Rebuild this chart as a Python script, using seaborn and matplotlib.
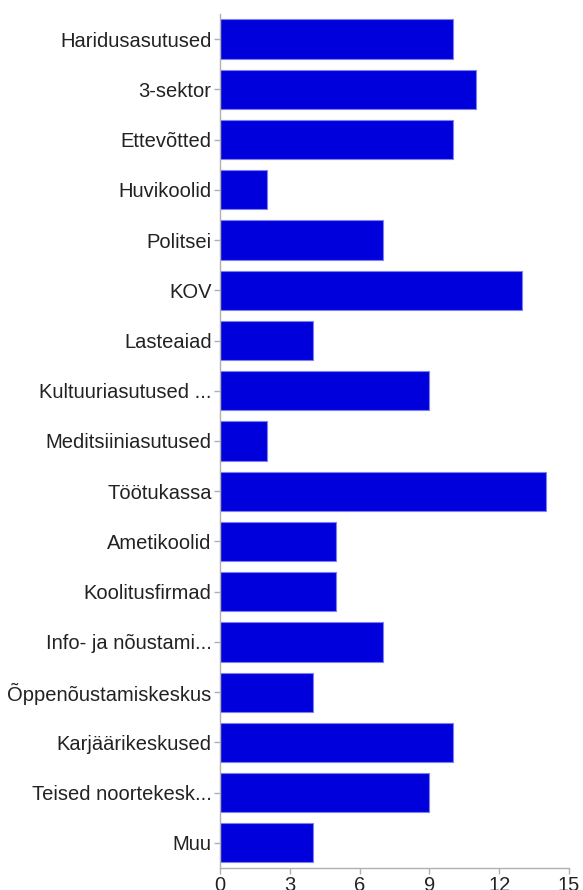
import matplotlib
matplotlib.use("Agg")
import pandas as pd
import seaborn as sns
import matplotlib.pyplot as plt

categories = ['Haridusasutused', '3-sektor', 'Ettevõtted', 'Huvikoolid', 'Politsei', 'KOV',
              'Lasteaiad', 'Kultuuriasutused ...', 'Meditsiiniasutused', 'Töötukassa',
              'Ametikoolid', 'Koolitusfirmad', 'Info- ja nõustami...', 'Õppenõustamiskeskus',
              'Karjäärikeskused', 'Teised noortekesk...', 'Muu']
counts = [10, 11, 10, 2, 7, 13, 4, 9, 2, 14, 5, 5, 7, 4, 10, 9, 4]
xticks = [0, 3, 6, 9, 12, 15]

sns.set_style("white")
plt.rcParams['font.family'] = ['Liberation Sans', 'DejaVu Sans']

data = pd.DataFrame({'label': categories, 'value': counts})

fig = plt.figure(figsize=(5.83, 8.90), dpi=100)
ax = fig.add_axes([0.3774, 0.0247, 0.5986, 0.9596])
sns.barplot(data=data, y='label', x='value', order=categories, color='#0000dd',
            saturation=1, width=0.78, edgecolor='#7f7ff0', linewidth=0.8, ax=ax)

ax.set_xlim(0, 15)
ax.set_ylim(16.5, -0.5)
ax.set_xticks(xticks)
ax.set_xlabel('')
ax.set_ylabel('')
for side in ['top', 'right']:
    ax.spines[side].set_visible(False)
for side in ['left', 'bottom']:
    ax.spines[side].set_color('#b0b0b0')
    ax.spines[side].set_linewidth(1)
ax.tick_params(axis='both', which='both', length=4, width=1, color='#b0b0b0',
               labelsize=14.5, labelcolor='#222222', pad=2, left=True, bottom=True)

fig.savefig("out.png", dpi=100)
